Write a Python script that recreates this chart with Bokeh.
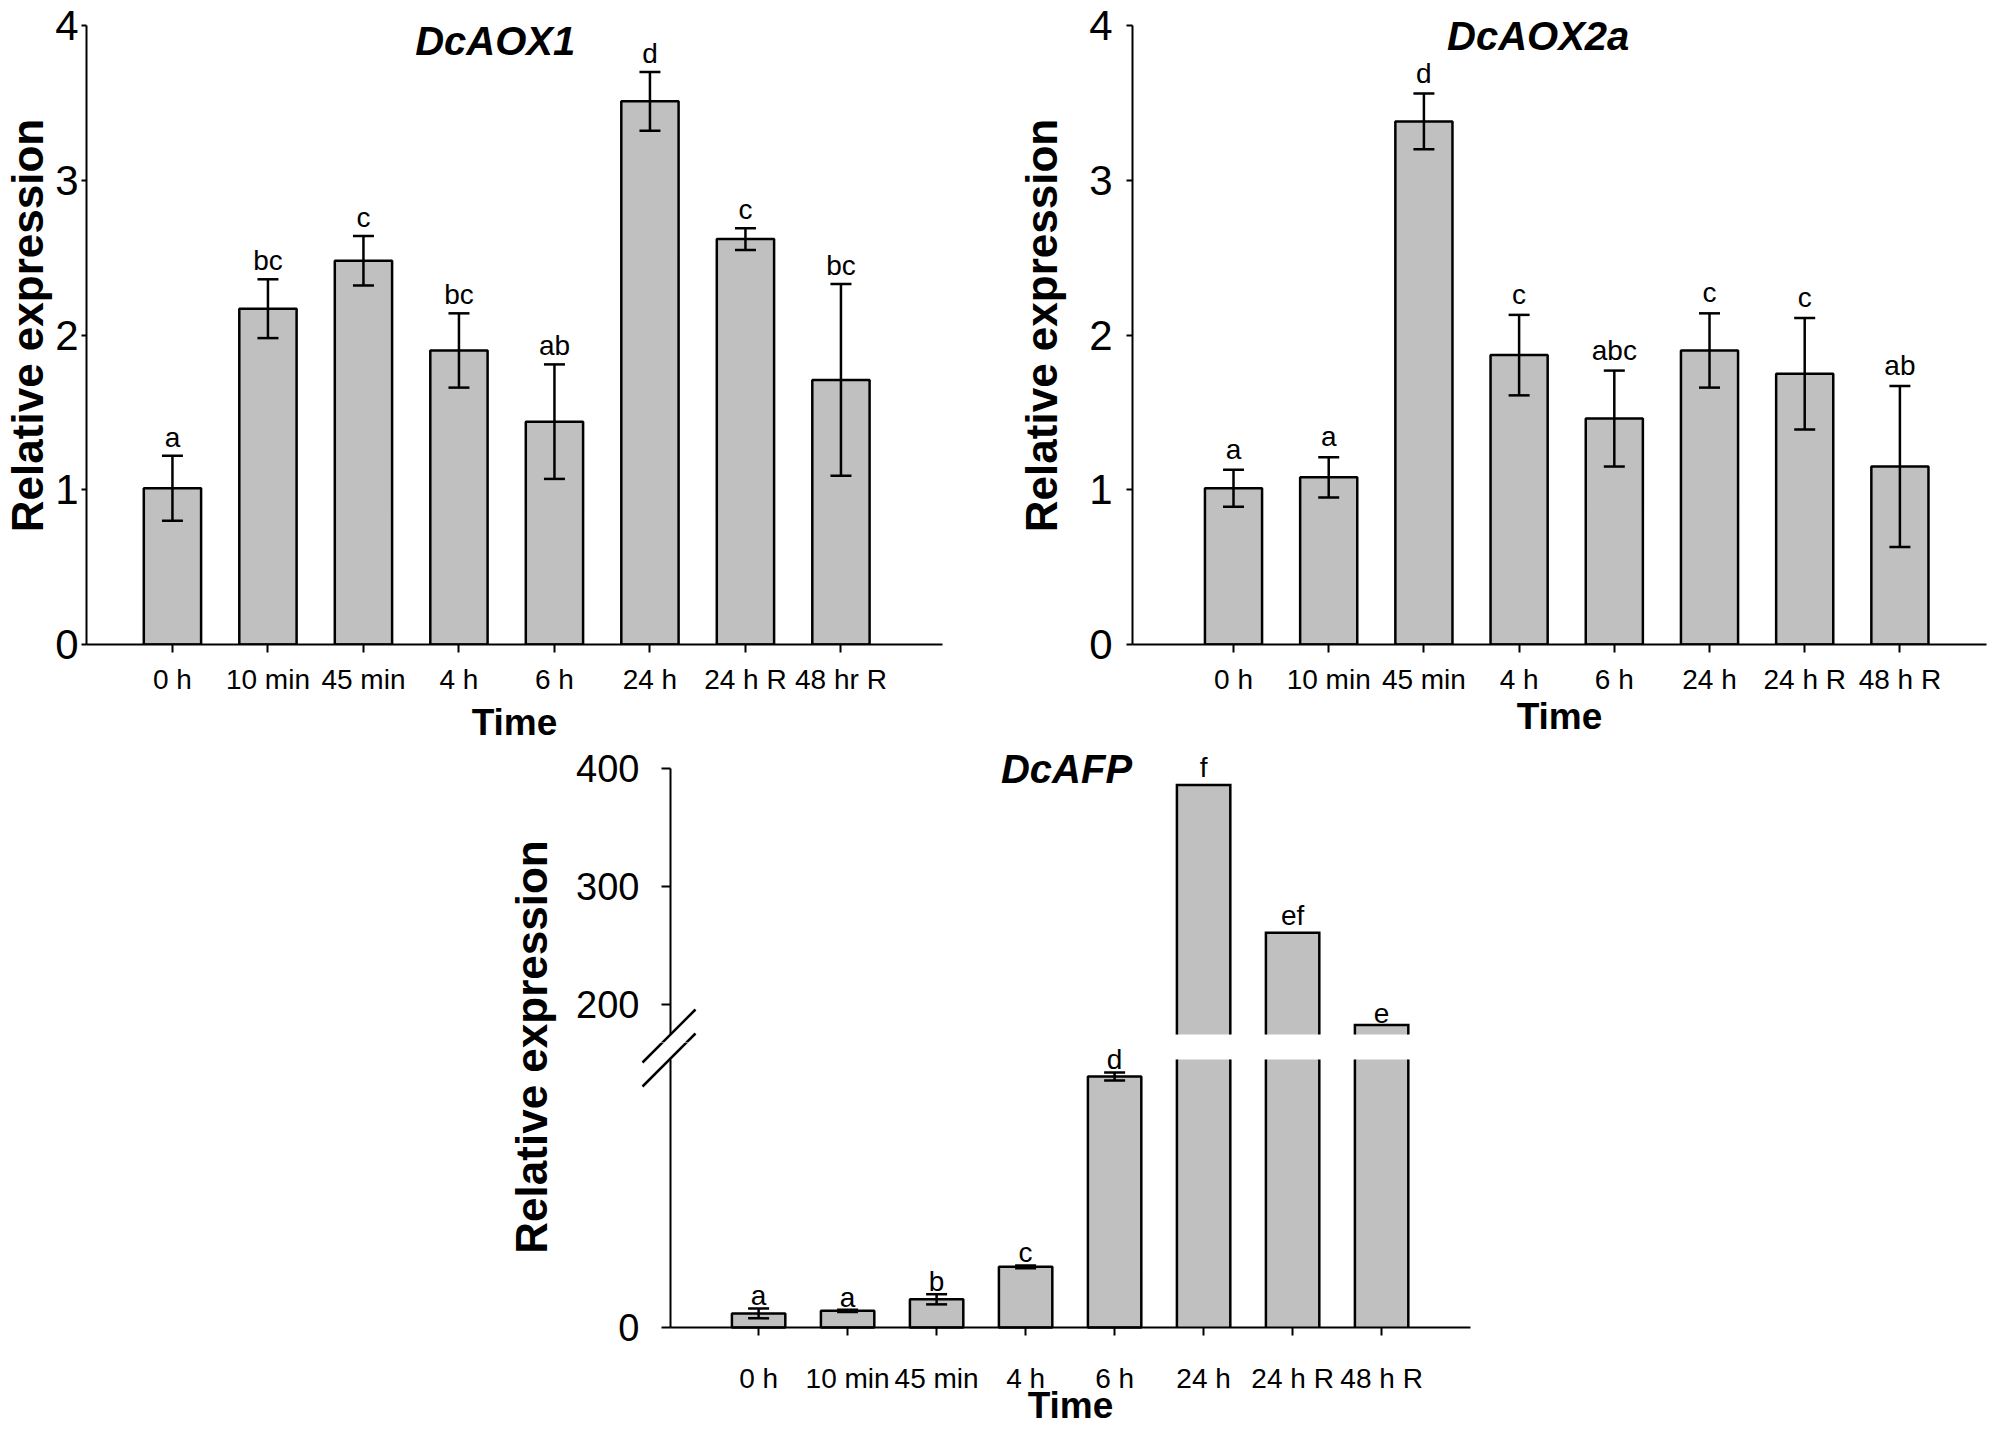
import math
from bokeh.plotting import figure
from bokeh.models import (Range1d, FixedTicker, LabelSet, Label, Whisker, TeeHead,
                          ColumnDataSource, Spacer)
from bokeh.layouts import row, column
from bokeh.embed import file_html
from bokeh.resources import INLINE
from bokeh.core.properties import value

# ---------------- data ----------------
times_aox1 = ["0 h", "10 min", "45 min", "4 h", "6 h", "24 h", "24 h R", "48 hr R"]
times = ["0 h", "10 min", "45 min", "4 h", "6 h", "24 h", "24 h R", "48 h R"]

aox1_mean = [1.01, 2.17, 2.48, 1.90, 1.44, 3.51, 2.62, 1.71]
aox1_err = [0.21, 0.19, 0.16, 0.24, 0.37, 0.19, 0.07, 0.62]
aox1_letters = ["a", "bc", "c", "bc", "ab", "d", "c", "bc"]

aox2a_mean = [1.01, 1.08, 3.38, 1.87, 1.46, 1.90, 1.75, 1.15]
aox2a_err = [0.12, 0.13, 0.18, 0.26, 0.31, 0.24, 0.36, 0.52]
aox2a_letters = ["a", "a", "d", "c", "abc", "c", "c", "ab"]

afp_mean = [1.0, 1.18, 2.0, 4.3, 17.8, 386, 261, 183]
afp_err = [0.35, 0.08, 0.36, 0.10, 0.28, 0.0, 0.0, 0.0]
afp_letters = ["a", "a", "b", "c", "d", "f", "ef", "e"]

afp_low_max = 19      # top of lower axis segment
afp_high_min = 175    # bottom of upper axis segment
afp_high_max = 400
afp_high_ticks = [200, 300, 400]
afp_low_ticks = [0]
y_ticks = [0, 1, 2, 3, 4]

FONT = "Liberation Sans"
BAR_FILL = "#c0c0c0"
LW = 2.5
BW = 0.6


def style(p):
    p.outline_line_color = None
    p.background_fill_color = "white"
    p.border_fill_color = "white"
    for g in p.grid:
        g.visible = False
    for ax in p.axis:
        ax.axis_line_width = 2
        ax.axis_line_color = "black"
        ax.major_tick_line_width = 2
        ax.major_tick_line_color = "black"
        ax.major_tick_in = 0
        ax.minor_tick_line_color = None
        ax.major_label_text_font = FONT
        ax.major_label_text_color = "black"
        ax.axis_label_text_font = FONT
        ax.axis_label_text_font_style = "bold"
        ax.axis_label_text_color = "black"


def add_whiskers(p, src):
    p.add_layout(Whisker(source=src, base="x", upper="upper", lower="lower",
                         line_width=LW, line_color="black", level="overlay",
                         upper_head=TeeHead(size=21, line_width=LW, line_color="black"),
                         lower_head=TeeHead(size=21, line_width=LW, line_color="black")))


def add_letters(p, src, yfield, offset):
    p.add_layout(LabelSet(source=src, x="x", y=yfield, text="letter",
                          text_align="center", text_baseline="bottom",
                          y_offset=offset, text_font=value(FONT),
                          text_font_size="28px", text_color="black"))


K12 = 619 / 4.0      # px per unit in the two upper panels
FH12 = 638


def bar_panel(labels, means, errs, letters, title, title_x, title_y,
              x_start, spacing, frame_w, borders, ytick_out,
              ytick_standoff, ylab_standoff, xlab_standoff, letter_off):
    n = len(means)
    src = ColumnDataSource(dict(
        x=list(range(n)), top=means,
        upper=[m + e for m, e in zip(means, errs)],
        lower=[m - e for m, e in zip(means, errs)],
        letter=letters))
    bl, bt, br, bb = borders
    p = figure(frame_width=frame_w, frame_height=FH12,
               x_range=Range1d(x_start, x_start + frame_w / spacing),
               y_range=Range1d(0, FH12 / K12),
               min_border_left=bl, min_border_top=bt, min_border_right=br,
               min_border_bottom=bb, output_backend="svg", toolbar_location=None)
    p.vbar(x="x", top="top", bottom=0, width=BW, source=src,
           fill_color=BAR_FILL, line_color="black", line_width=LW)
    add_whiskers(p, src)
    add_letters(p, src, "upper", letter_off)
    style(p)
    p.xaxis.ticker = FixedTicker(ticks=list(range(n)))
    p.xaxis.major_label_overrides = {i: lab for i, lab in enumerate(labels)}
    p.xaxis.major_tick_out = 8
    p.xaxis.major_label_standoff = 11
    p.xaxis.major_label_text_font_size = "28px"
    p.xaxis.axis_label = "Time"
    p.xaxis.axis_label_text_font_size = "37px"
    p.xaxis.axis_label_standoff = xlab_standoff
    p.yaxis.ticker = FixedTicker(ticks=y_ticks)
    p.yaxis.bounds = (y_ticks[0], y_ticks[-1])
    p.yaxis.major_tick_out = ytick_out
    p.yaxis.major_label_standoff = ytick_standoff
    p.yaxis.major_label_text_font_size = "42px"
    p.yaxis.axis_label = "Relative expression"
    p.yaxis.axis_label_text_font_size = "44px"
    p.yaxis.axis_label_standoff = ylab_standoff
    p.add_layout(Label(x=title_x, y=title_y, text=title, text_font=FONT,
                       text_font_style="bold italic", text_font_size="40px",
                       text_align="center", text_baseline="middle",
                       text_color="black"))
    return p


p1 = bar_panel(times_aox1, aox1_mean, aox1_err, aox1_letters, "DcAOX1", 3.38, 3.90,
               -0.90, 95.5, 856, (82, 6, 67, 99), 5, 3, 0, 4, 3)
p2 = bar_panel(times, aox2a_mean, aox2a_err, aox2a_letters, "DcAOX2a", 3.20, 3.93,
               -1.061, 95.2, 854, (123, 6, 2, 99), 6, 14, 20, -2, 5)

# ---------------- broken-axis panel ----------------
X_AX = -0.99          # data x where the y axis sits
X3_SP = 89.0          # px per category
AXIS_LEN = 800        # px length of the drawn x axis
LEFT_PAD = 103        # px of frame left of the y axis (tick labels, break marks)
F3W = 2 * (LEFT_PAD + AXIS_LEN // 2)   # symmetric so "Time" is centred on the axis
x3_start = X_AX - LEFT_PAD / X3_SP
x3_end = x3_start + F3W / X3_SP
x_axis_end = X_AX + AXIS_LEN / X3_SP
xr3 = Range1d(x3_start, x3_end)

UP_PX, LO_PX = 266, 268
k_t = UP_PX / (afp_high_max - afp_high_min)   # px per unit, upper segment
k_b = LO_PX / afp_low_max                      # px per unit, lower segment
TOP_PAD = 20
GAP = 25
SPLIT = 8            # gap px belonging to the upper frame
FT_H = TOP_PAD + UP_PX + SPLIT
BOT_PAD = 98         # px below zero (x axis, its labels and title)
FB_H = (GAP - SPLIT) + LO_PX + BOT_PAD
TOP_B = 3

idx = list(range(len(afp_mean)))
hi = [i for i in idx if afp_mean[i] > afp_low_max]
lo = [i for i in idx if afp_mean[i] <= afp_low_max]
hi_x = hi
hi_top = [afp_mean[i] for i in hi]

src_lo = ColumnDataSource(dict(x=lo, top=[afp_mean[i] for i in lo],
                               upper=[afp_mean[i] + afp_err[i] for i in lo],
                               lower=[afp_mean[i] - afp_err[i] for i in lo],
                               letter=[afp_letters[i] for i in lo]))
src_hi = ColumnDataSource(dict(x=hi_x, top=hi_top,
                               letter=[afp_letters[i] for i in hi]))

# upper segment
p3t = figure(frame_width=F3W, frame_height=FT_H, x_range=xr3,
             y_range=Range1d(afp_high_min - SPLIT / k_t, afp_high_max + TOP_PAD / k_t),
             x_axis_location=None,
             min_border_left=5, min_border_top=TOP_B, min_border_bottom=0,
             min_border_right=5, output_backend="svg", toolbar_location=None)
p3t.vbar(x=hi_x, bottom=afp_high_min, top=hi_top, width=BW,
         fill_color=BAR_FILL, line_color=None)
p3t.multi_line(xs=[[x - BW / 2, x - BW / 2, x + BW / 2, x + BW / 2] for x in hi_x],
               ys=[[afp_high_min, t, t, afp_high_min] for t in hi_top],
               line_color="black", line_width=LW, line_join="miter")
add_letters(p3t, src_hi, "top", 2)
style(p3t)
p3t.yaxis.fixed_location = X_AX
p3t.yaxis.bounds = (afp_high_min, afp_high_max)
p3t.yaxis.ticker = FixedTicker(ticks=afp_high_ticks)
p3t.yaxis.major_tick_out = 9
p3t.yaxis.major_label_standoff = 22
p3t.yaxis.major_label_text_font_size = "38px"
p3t.add_layout(Label(x=3.46, y=afp_high_max, text="DcAFP", text_font=FONT,
                     text_font_style="bold italic", text_font_size="40px",
                     text_align="center", text_baseline="middle", text_color="black"))

# lower segment (frame extends below zero so the axes' texts are not clipped)
p3b = figure(frame_width=F3W, frame_height=FB_H, x_range=xr3,
             y_range=Range1d(-BOT_PAD / k_b, afp_low_max + (GAP - SPLIT) / k_b),
             min_border_left=5, min_border_top=0, min_border_bottom=0,
             min_border_right=5, output_backend="svg", toolbar_location=None)
p3b.vbar(x="x", top="top", bottom=0, width=BW, source=src_lo,
         fill_color=BAR_FILL, line_color="black", line_width=LW)
p3b.vbar(x=hi_x, bottom=0, top=[min(t, afp_low_max) for t in hi_top], width=BW,
         fill_color=BAR_FILL, line_color=None)
p3b.multi_line(xs=[[x + s * BW / 2, x + s * BW / 2] for x in hi_x for s in (-1, 1)],
               ys=[[0, afp_low_max] for x in hi_x for s in (-1, 1)],
               line_color="black", line_width=LW)
add_whiskers(p3b, src_lo)
add_letters(p3b, src_lo, "upper", -3)
style(p3b)
p3b.yaxis.fixed_location = X_AX
p3b.yaxis.bounds = (0, afp_low_max)
p3b.yaxis.ticker = FixedTicker(ticks=afp_low_ticks)
p3b.yaxis.major_tick_out = 9
p3b.yaxis.major_label_standoff = 22
p3b.yaxis.major_label_text_font_size = "38px"
p3b.xaxis.fixed_location = 0
p3b.xaxis.bounds = (X_AX, x_axis_end)
p3b.xaxis.ticker = FixedTicker(ticks=idx)
p3b.xaxis.major_label_overrides = {i: lab for i, lab in enumerate(times)}
p3b.xaxis.major_tick_out = 8
p3b.xaxis.major_label_standoff = 27
p3b.xaxis.major_label_text_font_size = "28px"
p3b.xaxis.axis_label = "Time"
p3b.xaxis.axis_label_text_font_size = "37px"
p3b.xaxis.axis_label_standoff = -12

# axis-break marks: pixel offsets (dx from axis, dy below the 175 level)
marks_px = [((-28, 28), (25, -25)), ((-28, 52), (25, -1))]
mx0 = [X_AX + a[0] / X3_SP for a, b in marks_px]
mx1 = [X_AX + b[0] / X3_SP for a, b in marks_px]
p3t.segment(x0=mx0, x1=mx1,
            y0=[afp_high_min - a[1] / k_t for a, b in marks_px],
            y1=[afp_high_min - b[1] / k_t for a, b in marks_px],
            line_color="black", line_width=LW)
p3b.segment(x0=mx0, x1=mx1,
            y0=[afp_low_max - (a[1] - GAP) / k_b for a, b in marks_px],
            y1=[afp_low_max - (b[1] - GAP) / k_b for a, b in marks_px],
            line_color="black", line_width=LW)

H3 = TOP_B + FT_H + FB_H
gap_center_from_top = TOP_B + TOP_PAD + UP_PX + GAP / 2
lab_fig = figure(width=62, height=H3, x_range=Range1d(0, 62), y_range=Range1d(0, H3),
                 x_axis_type=None, y_axis_type=None, min_border=0,
                 output_backend="svg", toolbar_location=None)
lab_fig.outline_line_color = None
lab_fig.add_layout(Label(x=31, y=H3 - gap_center_from_top, text="Relative expression",
                         angle=math.pi / 2, text_font=FONT, text_font_style="bold",
                         text_font_size="44px", text_align="center",
                         text_baseline="middle", text_color="black"))

layout = column(row(p1, p2), row(Spacer(width=500, height=H3), lab_fig, column(p3t, p3b)))

open("out.html", "w").write(file_html(layout, INLINE))
